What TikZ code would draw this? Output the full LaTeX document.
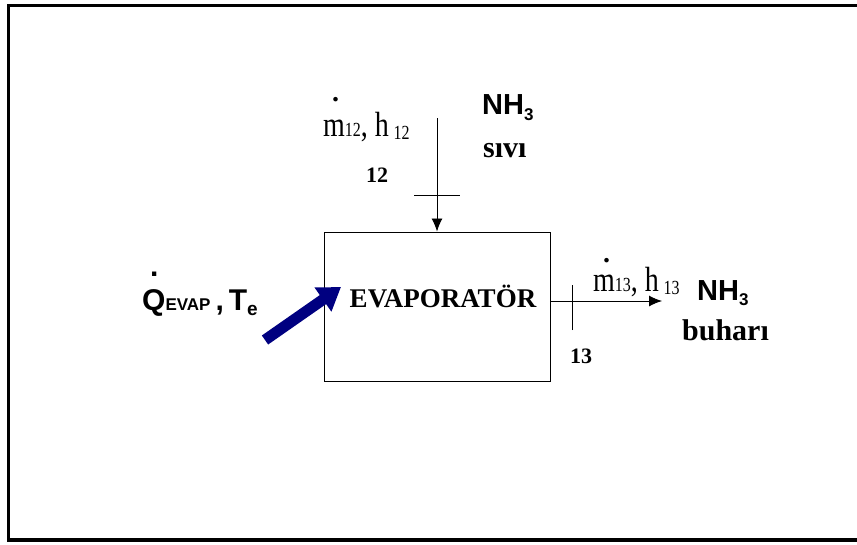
\documentclass[tikz,border=0pt]{standalone}
\usepackage{fontspec}
\setmainfont{Liberation Serif}
\newfontfamily\nhfont{Liberation Sans}
\usetikzlibrary{arrows.meta}
\definecolor{heatblue}{RGB}{0,0,128}
\newcommand{\subsz}{\fontsize{16}{16}\selectfont}
% dot over a rate symbol: #1 = shift right, #2 = raise
\newcommand{\flowdot}[2]{\rlap{\raisebox{#2}[0pt][0pt]{\hspace{#1}\textbf{.}}}}
% ammonia formula: #1 = lowering of the 3
\newcommand{\nhthree}[1]{NH\raisebox{-#1}{\fontsize{17}{17}\selectfont 3}}

\begin{document}
\begin{tikzpicture}[
  x=1pt, y=-1pt,
  flow/.style={-{Latex[length=13pt,width=11pt]}, line width=0.9pt},
  tick/.style={line width=0.9pt},
  heat/.style={-{Triangle[length=22pt,width=28pt]}, line width=11pt, heatblue},
  statelbl/.style={anchor=base west, inner sep=0pt, font=\fontsize{28}{28}\selectfont},
  numlbl/.style={anchor=base west, inner sep=0pt, font=\bfseries\fontsize{22}{22}\selectfont},
  fluidlbl/.style={anchor=base west, inner sep=0pt, font=\nhfont\bfseries\fontsize{29}{29}\selectfont},
  phaselbl/.style={anchor=base west, inner sep=0pt, font=\bfseries\fontsize{30}{30}\selectfont}
]
% page and outer frame
\useasboundingbox (0,0) rectangle (857,544);
\draw[line width=3.5pt] (8.5,5.5) rectangle (880,540);

% evaporator
\node[draw, line width=1pt, minimum width=226pt, minimum height=149pt, inner sep=0pt] (evap) at (437,306.5) {};
\node[anchor=base, inner sep=0pt, font=\bfseries\fontsize{27}{27}\selectfont] (evaplbl) at (443,307) {EVAPORATÖR};

% stream 12 (liquid in)
\coordinate (in12) at (437,118);
\coordinate (tick12) at (437,195);
\draw[flow] (in12) -- (evap.north);
\draw[tick] ([xshift=-23pt]tick12) -- ([xshift=23pt]tick12);
\node[statelbl] (m12) at (323,136) {\flowdot{9pt}{35pt}\scalebox{1}[1.25]{m{\subsz12}, h\,\raisebox{-3pt}{\subsz12}}};
\node[numlbl] (n12) at (366,182) {12};
\node[fluidlbl] (nh12) at (482,114) {\nhthree{6pt}};
\node[phaselbl] (liq) at (483,157) {sıvı};

% stream 13 (vapour out)
\coordinate (out13) at (662,301);
\coordinate (tick13) at (572,307.5);
\draw[flow] (evap.east |- out13) -- (out13);
\draw[tick] ([yshift=-22.5pt]tick13) -- ([yshift=22.5pt]tick13);
\node[statelbl] (m13) at (593,291) {\flowdot{10pt}{29pt}\scalebox{1}[1.25]{m{\subsz13}, h\,\raisebox{-3pt}{\subsz13}}};
\node[numlbl] (n13) at (570,363) {13};
\node[fluidlbl] (nh13) at (697,300) {\nhthree{5pt}};
\node[phaselbl] (vap) at (682,340) {buharı};

% heat input
\coordinate (qtail) at (265,340);
\coordinate (qtip) at (341,287);
\draw[heat] (qtail) -- (qtip);
\node[anchor=base west, inner sep=0pt, font=\nhfont\bfseries\fontsize{30}{30}\selectfont] (qevap) at (142,310)
  {\flowdot{8pt}{34pt}Q{\fontsize{17}{17}\selectfont EVAP}\,,\,T\raisebox{-5pt}{\fontsize{19}{19}\selectfont e}};
\end{tikzpicture}
\end{document}
